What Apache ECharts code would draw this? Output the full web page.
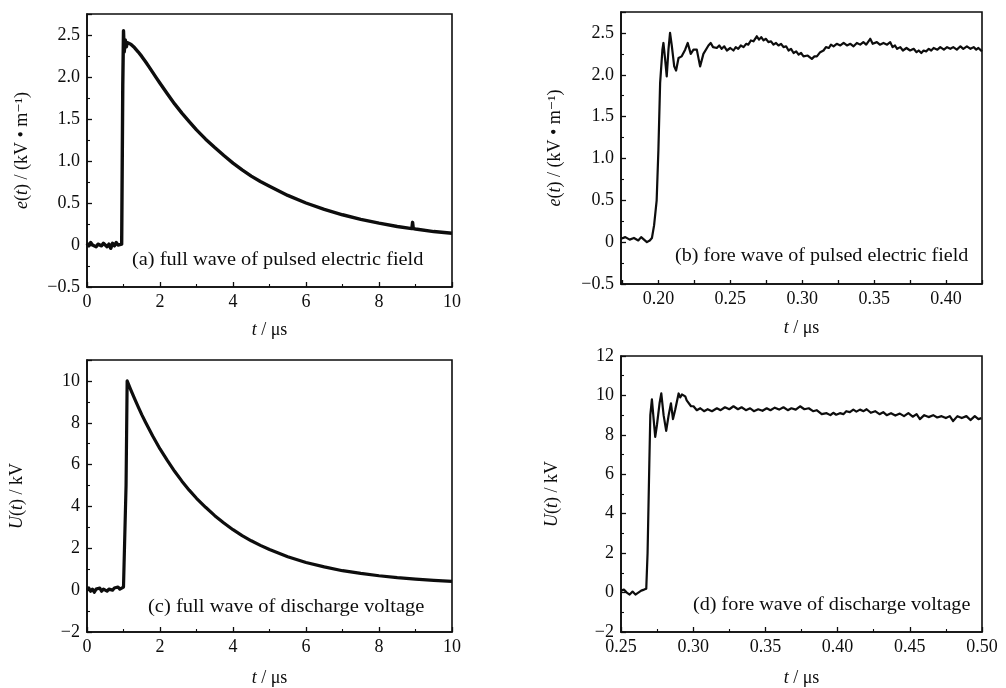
<!DOCTYPE html>
<html>
<head>
<meta charset="utf-8">
<script src="https://cdn.jsdelivr.net/npm/echarts@6/dist/echarts.min.js"></script>
<style>
html,body{margin:0;padding:0;background:#fff;}
#chart{width:1006px;height:688px;}
</style>
</head>
<body>
<div id="chart"></div>
<script>
// ---- Data ----
// (a) full wave of pulsed electric field: [t (μs), e (kV/m)]
const waveA = [
[0,0.02],[0.05,-0.01],[0.1,0.03],[0.15,0.0],[0.2,0.02],[0.25,-0.02],[0.3,0.01],[0.35,0.03],[0.4,-0.01],[0.45,0.02],
[0.5,0.0],[0.55,-0.02],[0.6,0.01],[0.65,-0.04],[0.7,0.02],[0.75,-0.01],[0.8,0.03],[0.85,0.0],[0.9,0.02],[0.95,0.01],[0.97,0.0],
[0.98,1.9],[1.0,2.55],[1.02,2.3],[1.05,2.44],[1.08,2.36],[1.1,2.41],[1.2,2.39],[1.3,2.35],[1.4,2.30],[1.5,2.245],
[1.6,2.185],[1.7,2.12],[1.8,2.055],[1.9,1.99],[2.0,1.925],[2.2,1.80],[2.4,1.68],[2.6,1.57],[2.8,1.47],[3.0,1.37],
[3.25,1.26],[3.5,1.16],[3.75,1.065],[4.0,0.975],[4.25,0.895],[4.5,0.82],[4.75,0.755],[5.0,0.70],[5.5,0.59],
[6.0,0.50],[6.5,0.425],[7.0,0.36],[7.5,0.305],[8.0,0.26],[8.5,0.22],[8.9,0.195],[8.92,0.27],[8.94,0.195],
[9.0,0.19],[9.5,0.16],[10,0.14]
];
// (b) fore wave of pulsed electric field
const waveB = [
[0.174,0.04],[0.177,0.06],[0.18,0.03],[0.183,0.05],[0.186,0.02],[0.188,0.06],[0.19,0.03],[0.192,0.0],[0.194,0.02],
[0.1955,0.05],[0.197,0.2],[0.1988,0.5],[0.200,1.1],[0.2012,1.9],[0.2028,2.3],[0.2035,2.38],[0.2046,2.2],[0.2058,1.98],
[0.207,2.3],[0.2081,2.5],[0.2093,2.35],[0.211,2.1],[0.2123,2.05],[0.214,2.2],[0.2162,2.22],[0.2186,2.3],[0.2204,2.38],
[0.2225,2.25],[0.2244,2.3],[0.2267,2.3],[0.229,2.1],[0.2313,2.25],[0.2348,2.35],[0.2364,2.38],[0.238,2.33],[0.2406,2.32],
[0.2423,2.35],[0.244,2.31],[0.2458,2.34],[0.2476,2.29],[0.25,2.32],[0.2522,2.29],[0.2538,2.33],[0.2555,2.31],
[0.2573,2.35],[0.2592,2.33],[0.261,2.37],[0.2625,2.36],[0.2643,2.41],[0.2661,2.40],[0.2684,2.46],[0.27,2.42],
[0.2715,2.45],[0.2731,2.41],[0.2748,2.43],[0.2765,2.39],[0.2783,2.4],[0.28,2.36],[0.2818,2.38],[0.2835,2.35],
[0.2853,2.37],[0.287,2.33],[0.2888,2.34],[0.2905,2.29],[0.2922,2.31],[0.294,2.26],[0.2958,2.28],[0.2975,2.24],
[0.2992,2.26],[0.3009,2.22],[0.3038,2.23],[0.3067,2.19],[0.3085,2.22],[0.3102,2.22],[0.3125,2.27],[0.3148,2.29],
[0.3165,2.33],[0.3185,2.32],[0.32,2.36],[0.3218,2.34],[0.324,2.37],[0.3265,2.35],[0.3288,2.38],[0.3311,2.35],
[0.3335,2.37],[0.3357,2.34],[0.338,2.38],[0.3403,2.36],[0.3425,2.39],[0.3445,2.36],[0.3473,2.43],[0.349,2.37],
[0.3519,2.39],[0.354,2.36],[0.3565,2.38],[0.359,2.36],[0.3612,2.39],[0.3628,2.33],[0.3645,2.35],[0.366,2.31],
[0.3682,2.33],[0.37,2.29],[0.3725,2.32],[0.375,2.29],[0.3775,2.31],[0.3795,2.27],[0.381,2.29],[0.3828,2.26],
[0.3844,2.29],[0.3862,2.28],[0.388,2.31],[0.3897,2.29],[0.3914,2.32],[0.394,2.30],[0.396,2.33],[0.3985,2.30],
[0.4007,2.33],[0.403,2.31],[0.405,2.33],[0.4075,2.30],[0.41,2.34],[0.412,2.31],[0.4145,2.34],[0.417,2.31],
[0.4192,2.33],[0.421,2.30],[0.4225,2.32],[0.425,2.28]
];
// (c) full wave of discharge voltage: [t (μs), U (kV)]
const waveC = [
[0,0.0],[0.05,0.1],[0.1,-0.05],[0.15,0.05],[0.2,-0.1],[0.25,0.05],[0.3,0.0],[0.35,0.1],[0.4,-0.05],[0.45,0.05],
[0.5,0.1],[0.55,-0.05],[0.6,0.05],[0.65,0.1],[0.7,0.0],[0.75,0.1],[0.8,0.05],[0.85,0.15],[0.9,0.05],[0.95,0.1],
[1.0,0.15],[1.05,0.2],[1.07,5.0],[1.1,10.0],[1.2,9.57],[1.3,9.16],[1.4,8.77],[1.5,8.39],[1.6,8.04],[1.8,7.37],
[2.0,6.75],[2.2,6.20],[2.4,5.68],[2.6,5.21],[2.8,4.78],[3.0,4.39],[3.25,3.96],[3.5,3.56],[3.75,3.21],[4.0,2.89],
[4.25,2.61],[4.5,2.36],[4.75,2.14],[5.0,1.94],[5.5,1.60],[6.0,1.32],[6.5,1.11],[7.0,0.93],[7.5,0.80],[8.0,0.69],
[8.5,0.60],[9.0,0.53],[9.5,0.47],[10,0.42]
];
// (d) fore wave of discharge voltage
const waveD = [
[0.25,0.1],[0.252,0.15],[0.254,0.0],[0.256,-0.1],[0.258,0.05],[0.26,-0.1],[0.262,0.0],[0.264,0.1],[0.266,0.15],[0.2675,0.2],
[0.2684,2.0],[0.2696,6.5],[0.2703,9.0],[0.2714,9.8],[0.2726,8.8],[0.2737,7.9],[0.2749,8.5],[0.2767,9.6],[0.2779,10.1],
[0.2795,9.0],[0.2813,8.2],[0.283,9.0],[0.2846,9.6],[0.286,8.8],[0.2876,9.3],[0.2899,10.1],[0.291,9.9],[0.2922,10.05],
[0.2945,9.95],[0.2955,9.75],[0.2968,9.65],[0.2985,9.45],[0.3002,9.45],[0.3025,9.25],[0.3049,9.35],[0.3075,9.2],
[0.31,9.3],[0.313,9.2],[0.3164,9.35],[0.319,9.25],[0.322,9.4],[0.325,9.3],[0.3279,9.45],[0.331,9.3],[0.3335,9.4],
[0.3365,9.25],[0.3394,9.35],[0.342,9.2],[0.345,9.3],[0.348,9.22],[0.3509,9.35],[0.3535,9.25],[0.3565,9.38],
[0.3595,9.28],[0.3625,9.4],[0.3655,9.25],[0.368,9.35],[0.371,9.28],[0.374,9.45],[0.377,9.3],[0.38,9.35],
[0.383,9.2],[0.3855,9.25],[0.389,9.05],[0.3924,9.1],[0.395,9.0],[0.397,9.12],[0.399,9.02],[0.4016,9.1],
[0.404,9.05],[0.406,9.2],[0.4085,9.15],[0.4109,9.28],[0.413,9.18],[0.4155,9.28],[0.418,9.2],[0.4201,9.3],
[0.423,9.12],[0.426,9.2],[0.429,9.05],[0.4316,9.15],[0.434,9.0],[0.437,9.1],[0.44,8.98],[0.4431,9.08],
[0.446,8.95],[0.449,9.1],[0.452,8.92],[0.4547,9.05],[0.457,8.8],[0.46,9.0],[0.463,8.9],[0.4662,9.0],
[0.469,8.88],[0.472,8.95],[0.475,8.85],[0.4777,8.95],[0.48,8.7],[0.483,8.95],[0.486,8.85],[0.4892,8.95],
[0.492,8.75],[0.495,8.95],[0.4975,8.8],[0.4996,8.85]
];
// axis ranges, tick labels and captions
const xRangeA = [0, 10], yRangeA = [-0.5, 2.75];
const xRangeB = [0.174, 0.425], yRangeB = [-0.5, 2.75];
const xRangeC = [0, 10], yRangeC = [-2, 11];
const xRangeD = [0.25, 0.5], yRangeD = [-2, 12];
const xLabelsB = [0.20, 0.25, 0.30, 0.35, 0.40];
const xTicksB = [0.175, 0.20, 0.225, 0.25, 0.275, 0.30, 0.325, 0.35, 0.375, 0.40, 0.425];
const captions = [
  '(a) full wave of pulsed electric field',
  '(b) fore wave of pulsed electric field',
  '(c) full wave of discharge voltage',
  '(d) fore wave of discharge voltage'
];
const yNameE = '{e|e}({i|t}) / (kV • m⁻¹)';
const yNameU = '{i|U}({i|t}) / kV';
const xName = '{i|t} / μs';

// ---- Chart ----
const FONT = '"Liberation Serif", "DejaVu Serif", serif';
const INK = '#0d0d0d';
const NAME_SIZE = 18;
const rich = {
  i: {fontStyle: 'italic', fontFamily: FONT, fontSize: NAME_SIZE, color: INK},
  e: {fontStyle: 'italic', fontFamily: FONT, fontSize: NAME_SIZE, color: INK}
};
function fmt(dec){
  return function(v){
    if (Math.abs(v) < 1e-9) return '0';
    return v.toFixed(dec).replace('-', '−');
  };
}
function xAxis(i, range, interval, dec, gap, extra){
  const ax = {
    type: 'value', gridIndex: i, min: range[0], max: range[1], interval: interval,
    name: xName, nameLocation: 'middle', nameGap: gap,
    nameTextStyle: {fontFamily: FONT, fontSize: NAME_SIZE, color: INK, rich: rich},
    axisLine: {show: true, onZero: false, lineStyle: {color: INK, width: 1.6}},
    axisTick: {show: true, inside: true, length: 5, lineStyle: {color: INK, width: 1.3}},
    minorTick: {show: true, splitNumber: 2, length: 3, lineStyle: {color: INK, width: 1.1}},
    axisLabel: {fontFamily: FONT, fontSize: 18, color: INK, margin: 6, formatter: fmt(dec)},
    splitLine: {show: false}
  };
  if (extra) {
    ax.axisLabel.customValues = extra.labels;
    ax.axisTick.customValues = extra.ticks;
    ax.axisTick.length = 4;
    ax.minorTick.show = false;
  }
  return ax;
}
function yAxis(i, range, interval, dec, name, gap){
  return {
    type: 'value', gridIndex: i, min: range[0], max: range[1], interval: interval,
    name: name, nameLocation: 'middle', nameGap: gap, nameRotate: 90,
    nameTextStyle: {fontFamily: FONT, fontSize: NAME_SIZE, color: INK, rich: rich},
    axisLine: {show: true, onZero: false, lineStyle: {color: INK, width: 1.6}},
    axisTick: {show: true, inside: true, length: 5, lineStyle: {color: INK, width: 1.3}},
    minorTick: {show: true, splitNumber: 2, length: 3, lineStyle: {color: INK, width: 1.1}},
    axisLabel: {fontFamily: FONT, fontSize: 18, color: INK, margin: 7, formatter: fmt(dec),
      showMaxLabel: range[1] === 12},
    splitLine: {show: false}
  };
}
function series(i, data, w){
  return {type: 'line', xAxisIndex: i, yAxisIndex: i, data: data, showSymbol: false,
    symbol: 'none', lineStyle: {color: INK, width: w, join: 'round'}, silent: true, animation: false};
}
const grids = [
  {left: 87, top: 14, width: 365, height: 273},
  {left: 621, top: 12, width: 361, height: 272},
  {left: 87, top: 360, width: 365, height: 272},
  {left: 621, top: 356, width: 361, height: 277}
].map(g => Object.assign(g, {show: true, borderColor: INK, borderWidth: 1.6, backgroundColor: 'transparent'}));

function caption(text, x, y, sx){
  return {type: 'text', x: x, y: y, scaleX: sx, silent: true,
    style: {text: text, font: '18px ' + FONT, fill: INK, textVerticalAlign: 'top', verticalAlign: 'top'}};
}

const chart = echarts.init(document.getElementById('chart'), null, {renderer: 'canvas'});
chart.setOption({
  animation: false,
  backgroundColor: '#fff',
  grid: grids,
  xAxis: [
    xAxis(0, xRangeA, 2, 0, 34),
    xAxis(1, xRangeB, 0.05, 2, 35, {labels: xLabelsB, ticks: xTicksB}),
    xAxis(2, xRangeC, 2, 0, 37),
    xAxis(3, xRangeD, 0.05, 2, 37)
  ],
  yAxis: [
    yAxis(0, yRangeA, 0.5, 1, yNameE, 56),
    yAxis(1, yRangeB, 0.5, 1, yNameE, 57),
    yAxis(2, yRangeC, 2, 0, yNameU, 61),
    yAxis(3, yRangeD, 2, 0, yNameU, 60)
  ],
  series: [
    series(0, waveA, 3.4),
    series(1, waveB, 2.2),
    series(2, waveC, 3.2),
    series(3, waveD, 2.2)
  ],
  graphic: [
    caption(captions[0], 132, 251, 1.13),
    caption(captions[1], 675, 247, 1.116),
    caption(captions[2], 148, 598, 1.142),
    caption(captions[3], 693, 596, 1.123)
  ]
});
</script>
</body>
</html>
